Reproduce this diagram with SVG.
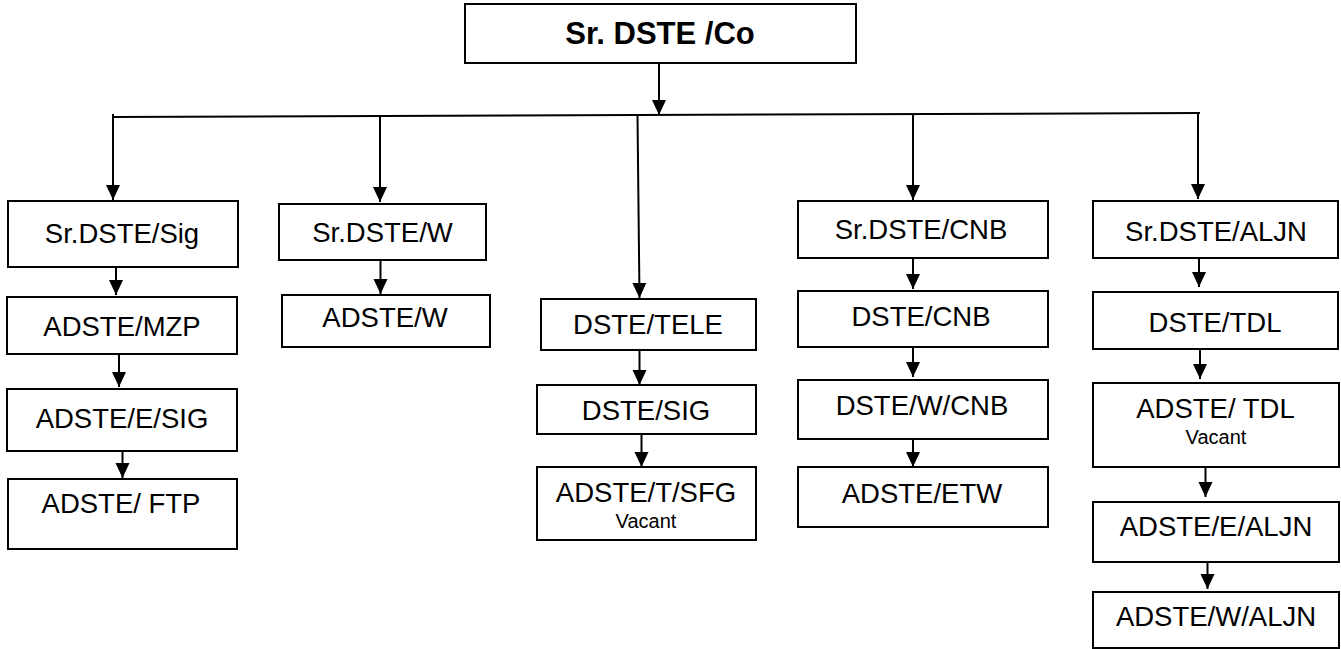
<svg xmlns="http://www.w3.org/2000/svg" width="1341" height="649" viewBox="0 0 1341 649">
<defs>
<marker id="arr" markerUnits="userSpaceOnUse" markerWidth="16" markerHeight="15" refX="15" refY="7" orient="auto" viewBox="0 0 16 14">
<path d="M0,0 L15,7 L0,14 z" fill="#000"/>
</marker>
<style>
rect.b{fill:#fff;stroke:#000;stroke-width:2}
text{font-family:"Liberation Sans",Arial,sans-serif;font-size:27.5px;fill:#000;text-anchor:middle}
text.t{font-weight:bold;font-size:31px}
text.v{font-size:20px}
line.c{stroke:#000;stroke-width:2}
line.a{stroke:#000;stroke-width:2;marker-end:url(#arr)}
</style>
</defs>
<rect width="1341" height="649" fill="#fff"/>
<g id="connectors">
<line class="c" x1="112" y1="117" x2="1200" y2="113"/>
<line class="c" x1="113" y1="114" x2="113" y2="117"/>
<line class="a" x1="659" y1="63" x2="659" y2="115"/>
<line class="a" x1="113" y1="117" x2="113" y2="200"/>
<line class="a" x1="380" y1="116" x2="380" y2="202"/>
<line class="a" x1="637.5" y1="115" x2="639.5" y2="298"/>
<line class="a" x1="913" y1="114" x2="913" y2="200"/>
<line class="a" x1="1198" y1="113" x2="1198" y2="199"/>
<line class="a" x1="116" y1="267" x2="116" y2="295"/>
<line class="a" x1="119" y1="354" x2="119" y2="387"/>
<line class="a" x1="122.5" y1="451" x2="122.5" y2="478"/>
<line class="a" x1="380.5" y1="260" x2="380.5" y2="294"/>
<line class="a" x1="639.5" y1="350" x2="639.5" y2="385"/>
<line class="a" x1="641.5" y1="434" x2="641.5" y2="467"/>
<line class="a" x1="913" y1="258" x2="913" y2="289"/>
<line class="a" x1="913" y1="347" x2="913" y2="377"/>
<line class="a" x1="913" y1="439" x2="913" y2="467"/>
<line class="a" x1="1199" y1="258" x2="1199" y2="287"/>
<line class="a" x1="1200" y1="349" x2="1200" y2="379"/>
<line class="a" x1="1205.5" y1="467" x2="1205.5" y2="497"/>
<line class="a" x1="1207.5" y1="562" x2="1207.5" y2="589"/>
</g>
<g id="n-co"><rect class="b" x="465" y="4" width="391" height="59"/><text class="t" x="660" y="44">Sr. DSTE /Co</text></g>
<g id="n-sig"><rect class="b" x="8" y="201" width="230" height="66"/><text x="122" y="243">Sr.DSTE/Sig</text></g>
<g id="n-mzp"><rect class="b" x="7" y="297" width="230" height="57"/><text x="122" y="336">ADSTE/MZP</text></g>
<g id="n-esig"><rect class="b" x="7" y="389" width="230" height="62"/><text x="122" y="428">ADSTE/E/SIG</text></g>
<g id="n-ftp"><rect class="b" x="8" y="479" width="229" height="70"/><text x="121" y="513">ADSTE/ FTP</text></g>
<g id="n-w"><rect class="b" x="279" y="204" width="207" height="56"/><text x="382.5" y="241.5">Sr.DSTE/W</text></g>
<g id="n-adw"><rect class="b" x="282" y="295" width="208" height="52"/><text x="385" y="327">ADSTE/W</text></g>
<g id="n-tele"><rect class="b" x="541" y="299" width="215" height="51"/><text x="648" y="334">DSTE/TELE</text></g>
<g id="n-dsig"><rect class="b" x="537" y="385" width="219" height="49"/><text x="646" y="420">DSTE/SIG</text></g>
<g id="n-sfg"><rect class="b" x="537" y="467" width="219" height="73"/><text x="646" y="501.5">ADSTE/T/SFG</text><text class="v" x="646" y="528">Vacant</text></g>
<g id="n-srcnb"><rect class="b" x="798" y="201" width="250" height="57"/><text x="921" y="238.5">Sr.DSTE/CNB</text></g>
<g id="n-cnb"><rect class="b" x="798" y="291" width="250" height="56"/><text x="921" y="326">DSTE/CNB</text></g>
<g id="n-wcnb"><rect class="b" x="798" y="380" width="250" height="59"/><text x="922" y="415">DSTE/W/CNB</text></g>
<g id="n-etw"><rect class="b" x="798" y="467" width="250" height="60"/><text x="922" y="503">ADSTE/ETW</text></g>
<g id="n-aljn"><rect class="b" x="1093" y="201" width="245" height="57"/><text x="1216" y="240.5">Sr.DSTE/ALJN</text></g>
<g id="n-tdl"><rect class="b" x="1093" y="292" width="245" height="57"/><text x="1215" y="332">DSTE/TDL</text></g>
<g id="n-atdl"><rect class="b" x="1093" y="383" width="246" height="84"/><text x="1215.5" y="418">ADSTE/ TDL</text><text class="v" x="1216" y="444">Vacant</text></g>
<g id="n-ealjn"><rect class="b" x="1093" y="502" width="246" height="60"/><text x="1216" y="536">ADSTE/E/ALJN</text></g>
<g id="n-waljn"><rect class="b" x="1093" y="592" width="246" height="56"/><text x="1216" y="626">ADSTE/W/ALJN</text></g>
</svg>
